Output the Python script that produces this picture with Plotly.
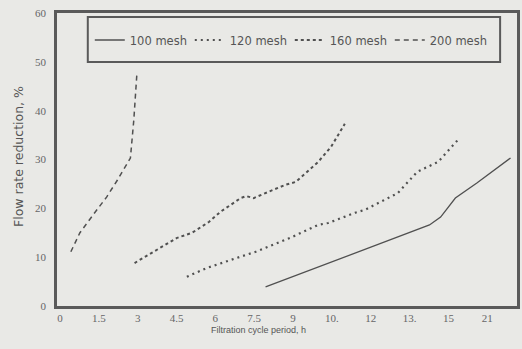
import plotly.graph_objects as go

# ---- data ----
x_tickvals = [0, 1.5, 3, 4.5, 6, 7.5, 9, 10.5, 12, 13.5, 15, 16.5]
x_ticktext = ["0", "1.5", "3", "4.5", "6", "7.5", "9", "10.", "12", "13.", "15", "21"]
y_tickvals = [0, 10, 20, 30, 40, 50, 60]

mesh100_x = [7.94, 9.0, 10.36, 12.2, 14.27, 14.7, 15.27, 16.1, 17.4]
mesh100_y = [3.9, 6.0, 8.8, 12.5, 16.6, 18.2, 22.1, 25.2, 30.3]

mesh120_x = [4.9, 5.68, 7.2, 7.56, 8.95, 9.97, 10.36, 11.4, 11.78, 13.04, 13.8, 14.6, 15.4]
mesh120_y = [6.0, 7.8, 10.5, 11.1, 14.1, 16.6, 17.0, 19.1, 19.7, 23.1, 27.5, 29.5, 34.2]

mesh160_x = [2.88, 3.07, 3.9, 4.5, 5.1, 5.75, 6.2, 6.98, 7.2, 7.48, 8.06, 8.7, 9.1, 9.5, 9.97, 10.47, 10.74, 11.0]
mesh160_y = [8.8, 9.4, 11.9, 13.9, 15.0, 17.2, 19.3, 22.1, 22.5, 22.1, 23.4, 24.8, 25.4, 27.2, 29.5, 32.6, 35.0, 37.3]

mesh200_x = [0.42, 0.77, 1.34, 1.8, 2.22, 2.72, 2.85, 2.97]
mesh200_y = [11.1, 15.0, 19.1, 22.3, 25.8, 30.3, 38.0, 47.5]

BG = "#e9e9e6"
INK = "#5a5a5a"
LINE = "#505050"

fig = go.Figure()
fig.add_trace(go.Scatter(x=mesh100_x, y=mesh100_y, mode="lines", name="100 mesh",
                         line=dict(color=LINE, width=1.3, dash="solid")))
fig.add_trace(go.Scatter(x=mesh120_x, y=mesh120_y, mode="lines", name="120 mesh",
                         line=dict(color=LINE, width=2.2, dash="2px,4px")))
fig.add_trace(go.Scatter(x=mesh160_x, y=mesh160_y, mode="lines", name="160 mesh",
                         line=dict(color=LINE, width=2.0, dash="3px,3px")))
fig.add_trace(go.Scatter(x=mesh200_x, y=mesh200_y, mode="lines", name="200 mesh",
                         line=dict(color=LINE, width=1.5, dash="5px,4px")))

W, H = 522, 349
L, R, T, B = 57, 2, 13, 43
pw = W - L - R
ph = H - T - B

def px(xp):
    return (xp - L) / pw

def py(yp):
    return (H - B - yp) / ph

fig.update_layout(
    width=W, height=H,
    margin=dict(l=L, r=R, t=T, b=B, pad=0),
    paper_bgcolor=BG, plot_bgcolor=BG,
    font=dict(family="Liberation Sans", color=INK),
    showlegend=True,
    legend=dict(orientation="h", x=px(90), xanchor="left", y=py(40), yanchor="middle",
                bgcolor="rgba(0,0,0,0)", borderwidth=0,
                font=dict(family="DejaVu Sans", size=11.5, color="#555555"),
                entrywidth=55, entrywidthmode="pixels", itemwidth=30),
    xaxis=dict(range=[-0.115, 17.65], tickvals=x_tickvals, ticktext=x_ticktext,
               showgrid=False, zeroline=False, showline=True, mirror=True,
               linecolor=INK, linewidth=2.5, ticks="",
               tickfont=dict(family="Liberation Serif", size=11, color="#666666")),
    yaxis=dict(range=[0, 60], tickvals=y_tickvals,
               showgrid=False, zeroline=False, showline=True, mirror=True,
               linecolor=INK, linewidth=2.5, ticks="", ticklabelstandoff=6,
               tickfont=dict(family="Liberation Serif", size=11, color="#666666")),
    shapes=[dict(type="rect", xref="paper", yref="paper",
                 x0=px(88), x1=px(503), y0=py(62), y1=py(17),
                 line=dict(color=INK, width=2), fillcolor=BG, layer="above")],
    annotations=[
        dict(text="Flow rate reduction, %", xref="paper", yref="paper", x=0, y=py(157),
             xshift=-(L - 18), xanchor="center", yanchor="middle", textangle=-90,
             showarrow=False, font=dict(family="DejaVu Sans", size=12.5, color="#555555")),
        dict(text="Filtration cycle period, h", xref="paper", yref="paper",
             x=px(260), y=0, yshift=-(330 - (H - B)), xanchor="center", yanchor="middle",
             showarrow=False, font=dict(family="Liberation Sans", size=9, color="#555555")),
    ],
)

fig.write_html("out.html")
